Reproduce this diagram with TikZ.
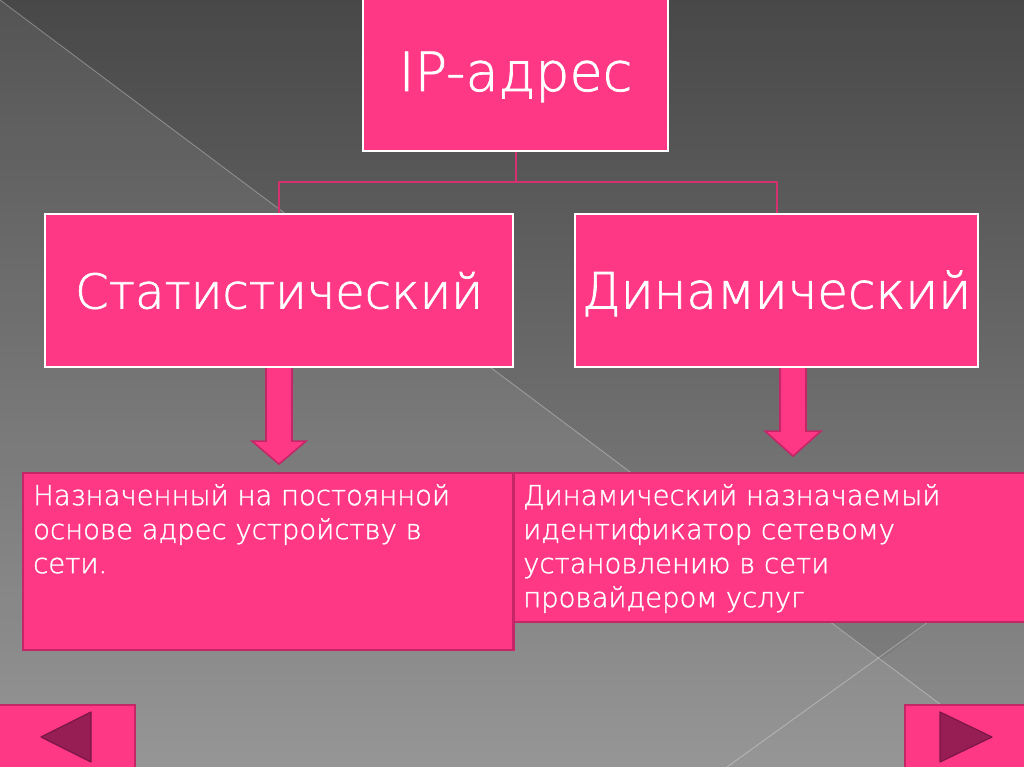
\documentclass[tikz,border=0pt]{standalone}
\usepackage{fontspec}
\newfontfamily\gothic{DejaVu Sans ExtraLight}[FakeBold=1.3]
\usetikzlibrary{calc}
\definecolor{pinkfill}{RGB}{255,56,134}
\definecolor{pinkdark}{RGB}{196,38,104}
\definecolor{pinkline}{RGB}{214,48,112}
\definecolor{tri}{RGB}{150,30,84}
\definecolor{tridark}{RGB}{125,22,70}
\definecolor{bgtop}{RGB}{72,72,72}
\definecolor{bgbot}{RGB}{142,142,142}
\tikzset{
  whitebox/.style={draw=white, line width=2.2pt, fill=pinkfill, text=white, inner sep=0pt, text depth=0pt},
  textbox/.style={draw=pinkdark, line width=2pt, fill=pinkfill},
  conn/.style={draw=pinkline, line width=2pt},
  barrow/.style={draw=pinkdark, line width=1.6pt, fill=pinkfill, line join=miter},
  navbox/.style={draw=pinkdark, line width=2pt, fill=pinkfill},
  navtri/.style={draw=tridark, line width=1.2pt, fill=tri, line join=round},
  bodytext/.style={text=white, inner sep=0pt, align=left, anchor=north west,
    font=\gothic\fontsize{27.5}{34}\selectfont},
  diag/.style={draw=white, opacity=0.3, line width=0.9pt}
}
\begin{document}
\begin{tikzpicture}[x=1pt,y=-1pt]
\useasboundingbox (0,0) rectangle (1024,767);
\clip (0,0) rectangle (1024,767);
% background
\shade[top color=bgtop, bottom color=bgbot] (0,0) rectangle (1024,767);
\fill[white, opacity=0.07] (0,0) -- (1024,767) -- (0,767) -- cycle;
\fill[black, opacity=0.06] (830,622) -- (930,622) -- (880,660) -- cycle;
\draw[diag] (0,0) -- (1024,767);
\draw[diag] (727,767) -- (1024,553);

% top node
\node[whitebox, minimum width=305pt, minimum height=166pt, text height=46pt,
      font=\gothic\fontsize{54}{60}\selectfont] (ip) at (515.5,68) {IP-адрес};

% second level
\node[whitebox, minimum width=468pt, minimum height=153pt, text height=36pt,
      font=\gothic\fontsize{48}{60}\selectfont] (stat) at (279,290.5) {Статистический};
\node[whitebox, minimum width=403pt, minimum height=153pt, text height=36pt,
      font=\gothic\fontsize{50}{60}\selectfont] (dyn) at (776.5,290.5) {Динамический};

% connectors
\coordinate (bus) at (515.5,182);
\draw[conn] (ip.south) -- (bus);
\draw[conn] (bus) -| (stat.north);
\draw[conn] (bus) -| (dyn.north);

% bottom boxes
\node[textbox, minimum width=490pt, minimum height=177pt, anchor=north west] (b1) at (22,472) {};
\node[textbox, minimum width=520pt, minimum height=149pt, anchor=north west] (b2) at (512.5,472) {};
\node[bodytext] (t1) at (33,484) {Назначенный на постоянной\\основе адрес устройству в\\сети.};
\node[bodytext] (t2) at (523,484) {Динамический назначаемый\\идентификатор сетевому\\установлению в сети\\провайдером услуг};
\draw[textbox, fill=none] (b1.north east) -- (b1.south east);

% block arrows
\draw[barrow] ($(stat.south)+(-13,0)$) -- ($(stat.south)+(-13,73)$) -- ($(stat.south)+(-27,73)$)
  -- ($(stat.south)+(0,96)$) -- ($(stat.south)+(27,73)$) -- ($(stat.south)+(13,73)$)
  -- ($(stat.south)+(13,0)$);
\draw[barrow] ($(dyn.south)+(3.5,0)$) -- ($(dyn.south)+(3.5,63)$) -- ($(dyn.south)+(-11.5,63)$)
  -- ($(dyn.south)+(16.5,88)$) -- ($(dyn.south)+(44.5,63)$) -- ($(dyn.south)+(29.5,63)$)
  -- ($(dyn.south)+(29.5,0)$);

% navigation buttons
\node[navbox, minimum width=140pt, minimum height=70pt, anchor=north west] (prev) at (-6,704) {};
\draw[navtri] (41,737) -- (91,712) -- (91,762) -- cycle;
\node[navbox, minimum width=130pt, minimum height=70pt, anchor=north west] (next) at (904,704) {};
\draw[navtri] (940,712) -- (992,737) -- (940,762) -- cycle;
\end{tikzpicture}
\end{document}
